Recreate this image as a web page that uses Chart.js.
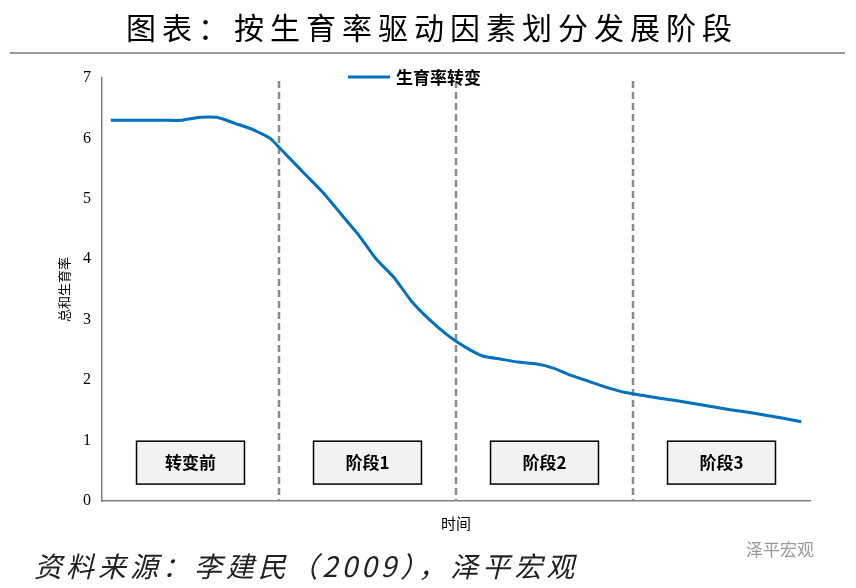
<!DOCTYPE html>
<html>
<head>
<meta charset="utf-8">
<script src="https://cdn.jsdelivr.net/npm/chart.js@4"></script>
<style>
  html, body { margin: 0; padding: 0; background: #fff; }
  #wrap { width: 856px; height: 588px; position: relative; }
</style>
</head>
<body>
<div id="wrap"><canvas id="c"></canvas></div>
<script>
// 数据
const fertility = [6.3, 6.3, 6.3, 6.3, 6.3, 6.35, 6.35, 6.25, 6.15, 6.0,
  5.7, 5.4, 5.1, 4.75, 4.4, 4.0, 3.7, 3.3, 3.0, 2.75,
  2.55, 2.4, 2.35, 2.3, 2.27, 2.2, 2.08, 1.98, 1.88, 1.8,
  1.75, 1.7, 1.66, 1.61, 1.56, 1.51, 1.47, 1.42, 1.37, 1.31];
const stageBreaks = [9.5, 19.5, 29.5];
const stageLabels = ['转变前', '阶段1', '阶段2', '阶段3'];
const stageCenters = [4.5, 14.5, 24.5, 34.5];
const yTicks = [0, 1, 2, 3, 4, 5, 6, 7];

const points = fertility.map((v, i) => ({ x: i, y: v }));
const FONT = '"Noto Sans CJK SC", "Noto Sans", sans-serif';

const decor = {
  id: 'decor',
  beforeDatasetsDraw(chart) {
    const { ctx, chartArea: a, scales: { x, y } } = chart;
    ctx.save();
    // 阶段分隔虚线
    ctx.strokeStyle = '#8c8c8c';
    ctx.lineWidth = 2.5;
    ctx.setLineDash([7, 4]);
    stageBreaks.forEach(b => {
      const px = x.getPixelForValue(b);
      ctx.beginPath();
      ctx.moveTo(px, y.getPixelForValue(6.95));
      ctx.lineTo(px, a.bottom);
      ctx.stroke();
    });
    ctx.setLineDash([]);
    // 阶段方框
    stageCenters.forEach((c, i) => {
      const l = x.getPixelForValue(c - 3.05), r = x.getPixelForValue(c + 3.05);
      const t = y.getPixelForValue(0.99), btm = y.getPixelForValue(0.28);
      ctx.fillStyle = '#f2f2f2';
      ctx.fillRect(l, t, r - l, btm - t);
      ctx.strokeStyle = '#000';
      ctx.lineWidth = 1.5;
      ctx.strokeRect(l, t, r - l, btm - t);
      ctx.fillStyle = '#000';
      ctx.font = 'bold 17px ' + FONT;
      ctx.textAlign = 'center';
      ctx.textBaseline = 'middle';
      ctx.fillText(stageLabels[i], (l + r) / 2, (t + btm) / 2);
    });
    ctx.restore();
  },
  afterDraw(chart) {
    const { ctx } = chart;
    ctx.save();
    // 标题
    ctx.fillStyle = '#000';
    ctx.font = '30px ' + FONT;
    ctx.letterSpacing = '6px';
    ctx.textAlign = 'center';
    ctx.textBaseline = 'middle';
    ctx.fillText('图表：按生育率驱动因素划分发展阶段', 432, 28);
    ctx.letterSpacing = '0px';
    ctx.strokeStyle = '#999';
    ctx.lineWidth = 2;
    ctx.beginPath(); ctx.moveTo(10, 53); ctx.lineTo(845, 53); ctx.stroke();
    // 图例
    ctx.strokeStyle = '#0070c0';
    ctx.lineWidth = 3;
    ctx.beginPath(); ctx.moveTo(348, 77); ctx.lineTo(390, 77); ctx.stroke();
    ctx.font = 'bold 17px ' + FONT;
    ctx.textAlign = 'left';
    ctx.fillText('生育率转变', 396, 78);
    // 来源
    ctx.font = 'italic 28px ' + FONT;
    ctx.letterSpacing = '4px';
    ctx.fillStyle = '#222';
    ctx.fillText('资料来源：李建民（2009），泽平宏观', 34, 566);
    ctx.letterSpacing = '0px';
    ctx.font = '17px ' + FONT;
    ctx.fillStyle = '#999';
    ctx.fillText('泽平宏观', 746, 550);
    ctx.restore();
  }
};

new Chart(document.getElementById('c'), {
  type: 'line',
  data: {
    datasets: [{
      label: '生育率转变',
      data: points,
      borderColor: '#0070c0',
      borderWidth: 3,
      pointRadius: 0,
      tension: 0.15,
      fill: false
    }]
  },
  options: {
    responsive: true,
    maintainAspectRatio: false,
    animation: false,
    layout: { padding: { left: 52, right: 46, top: 78, bottom: 52 } },
    plugins: { legend: { display: false }, tooltip: { enabled: false } },
    scales: {
      x: {
        type: 'linear', min: -0.5, max: 39.5,
        grid: { display: false, drawTicks: false },
        border: { color: '#7f7f7f', width: 1.5 },
        ticks: { display: false },
        title: { display: true, text: '时间', color: '#000', font: { family: FONT, size: 15 }, padding: { top: 6 } },
        afterFit: s => { s.height = 35; }
      },
      y: {
        min: 0, max: 7,
        afterBuildTicks: s => { s.ticks = yTicks.map(v => ({ value: v })); },
        grid: { display: false, drawTicks: true, tickLength: 5, tickColor: '#7f7f7f' },
        border: { color: '#7f7f7f', width: 1.5 },
        ticks: { color: '#000', font: { family: '"Liberation Serif", serif', size: 16 }, padding: 6 },
        title: { display: true, text: '总和生育率', color: '#000', font: { family: FONT, size: 13 } },
        afterFit: s => { s.width = 50; }
      }
    }
  },
  plugins: [decor]
});
</script>
</body>
</html>
